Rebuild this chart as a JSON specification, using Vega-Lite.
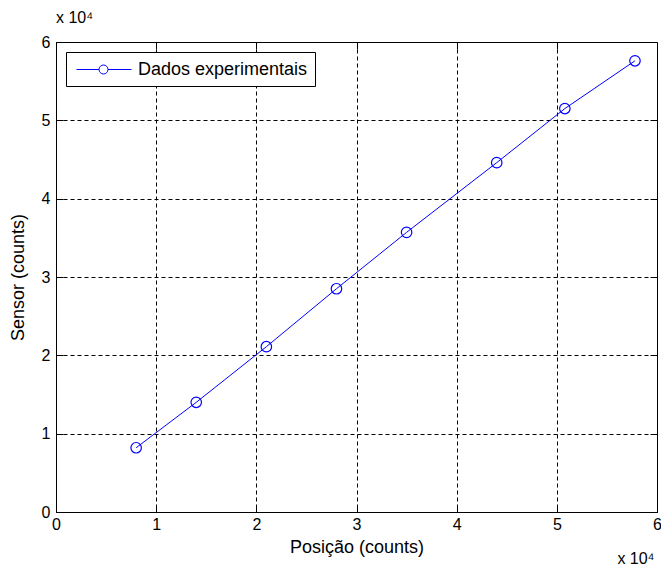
{
  "$schema": "https://vega.github.io/schema/vega-lite/v6.json",
  "autosize": "none",
  "padding": {"left": 56, "top": 42, "right": 4, "bottom": 57},
  "width": 601,
  "height": 470,
  "background": "white",
  "config": {
    "font": "Liberation Sans",
    "view": {"stroke": "black", "strokeWidth": 1},
    "axis": {"labelFont": "Liberation Sans", "titleFont": "Liberation Sans", "labelColor": "black", "titleColor": "black"}
  },
  "title": {"text": "x 10⁴", "anchor": "start", "frame": "group", "fontSize": 16, "fontWeight": "normal", "font": "Liberation Sans", "color": "black", "dx": 0, "offset": 8},
  "data": {"values": [
    {"posicao": 8000, "sensor": 8200, "serie": "Dados experimentais"},
    {"posicao": 14000, "sensor": 14000, "serie": "Dados experimentais"},
    {"posicao": 21000, "sensor": 21100, "serie": "Dados experimentais"},
    {"posicao": 28000, "sensor": 28500, "serie": "Dados experimentais"},
    {"posicao": 35000, "sensor": 35700, "serie": "Dados experimentais"},
    {"posicao": 44000, "sensor": 44600, "serie": "Dados experimentais"},
    {"posicao": 50800, "sensor": 51500, "serie": "Dados experimentais"},
    {"posicao": 57800, "sensor": 57600, "serie": "Dados experimentais"}
  ]},
  "resolve": {"axis": {"x": "independent", "y": "independent"}},
  "layer": [
    {
      "mark": {"type": "line", "strokeWidth": 1, "point": {"shape": "circle", "filled": false, "size": 110, "strokeWidth": 1.2}},
      "encoding": {
        "x": {"field": "posicao", "type": "quantitative", "scale": {"domain": [0, 60000], "nice": false, "zero": false},
          "axis": {"values": [0, 10000, 20000, 30000, 40000, 50000, 60000], "labelExpr": "datum.value / 10000", "title": "Posição (counts)", "titleFontSize": 18, "titleFontWeight": "normal", "labelFontSize": 16, "labelPadding": 11, "titlePadding": 6, "tickSize": -7, "tickColor": "black", "domainColor": "black", "grid": true, "gridColor": "black", "gridDash": [4, 3], "gridOpacity": 1, "labelFlush": false}},
        "y": {"field": "sensor", "type": "quantitative", "scale": {"domain": [0, 60000], "nice": false, "zero": false},
          "axis": {"values": [0, 10000, 20000, 30000, 40000, 50000, 60000], "labelExpr": "datum.value / 10000", "title": "Sensor (counts)", "titleFontSize": 18, "titleFontWeight": "normal", "labelFontSize": 16, "labelPadding": 13, "titlePadding": 14, "tickSize": -7, "tickColor": "black", "domainColor": "black", "grid": true, "gridColor": "black", "gridDash": [4, 3], "gridOpacity": 1, "labelFlush": false}},
        "color": {"field": "serie", "type": "nominal", "scale": {"range": ["#0000ff"]},
          "legend": {"title": null, "orient": "top-left", "offset": 10, "labelFontSize": 18, "labelColor": "black", "labelFont": "Liberation Sans", "labelLimit": 400,
            "symbolType": "M-0.7,0H1.55M2.45,0H4.8M1.55,0A0.45,0.45 0 1,0 2.45,0A0.45,0.45 0 1,0 1.55,0",
            "symbolSize": 400, "symbolStrokeWidth": 1, "symbolFillColor": "transparent", "symbolStrokeColor": "#0000ff",
            "strokeColor": "black", "fillColor": "white", "padding": 7, "labelOffset": 44}}
      }
    },
    {
      "mark": {"type": "point", "opacity": 0},
      "encoding": {
        "x": {"field": "posicao", "type": "quantitative", "scale": {"domain": [0, 60000], "nice": false, "zero": false},
          "axis": {"orient": "top", "values": [10000, 20000, 30000, 40000, 50000], "labels": false, "domain": false, "grid": false, "tickSize": -7, "tickColor": "black", "title": null}},
        "y": {"field": "sensor", "type": "quantitative", "scale": {"domain": [0, 60000], "nice": false, "zero": false},
          "axis": {"orient": "right", "values": [10000, 20000, 30000, 40000, 50000], "labels": false, "domain": false, "grid": false, "tickSize": -7, "tickColor": "black", "title": null}}
      }
    },
    {
      "mark": {"type": "point", "opacity": 0},
      "encoding": {
        "x": {"field": "posicao", "type": "quantitative", "scale": {"domain": [0, 60000], "nice": false, "zero": false},
          "axis": {"orient": "bottom", "labels": false, "domain": false, "grid": false, "ticks": false, "title": "x 10⁴", "titleFontSize": 16, "titleFontWeight": "normal", "titleAnchor": "end", "titleAlign": "right", "titleX": 598, "titleY": 51, "titleBaseline": "alphabetic"}},
        "y": {"field": "sensor", "type": "quantitative", "scale": {"domain": [0, 60000], "nice": false, "zero": false}, "axis": null}
      }
    }
  ]
}
